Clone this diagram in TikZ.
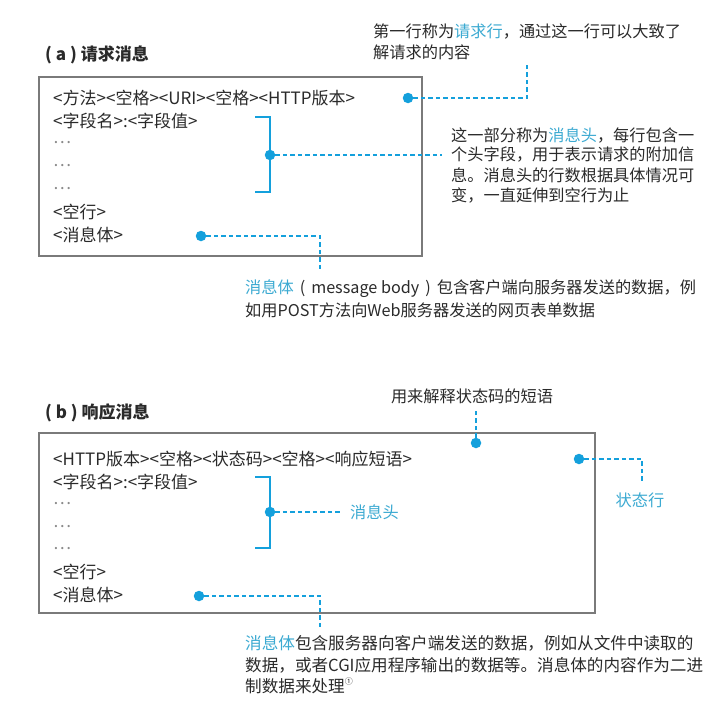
\documentclass[tikz,border=0pt]{standalone}
\usepackage{fontspec}
\setmainfont{Noto Sans CJK SC}
\definecolor{cy}{HTML}{14A0DC}
\definecolor{cyt}{HTML}{3CAAD2}
\definecolor{txt}{HTML}{2A2A2A}
\definecolor{bx}{HTML}{7A7A7A}
\definecolor{dots}{HTML}{8A8A8A}
\tikzset{
 boxln/.style={draw=bx, line width=2.5pt},
 ln/.style={anchor=west, inner sep=0pt, font=\fontsize{17}{20}\selectfont, text=txt},
 note/.style={anchor=west, inner sep=0pt, font=\fontsize{16.2}{19}\selectfont, text=txt},
 notebig/.style={anchor=west, inner sep=0pt, font=\fontsize{16.6}{19}\selectfont, text=txt},
 dotn/.style={circle, fill=cy, inner sep=0pt, minimum size=10.5pt},
 dl/.style={draw=cy, line width=2.2pt, dash pattern=on 4.5pt off 3pt},
 br/.style={draw=cy, line width=2.5pt},
 ttl/.style={anchor=west, inner sep=0pt, font=\fontsize{17}{19}\selectfont\bfseries, text=txt},
}
\begin{document}
\begin{tikzpicture}[x=1pt,y=-1pt]
\path[use as bounding box, fill=white] (0,0) rectangle (723,709);

% ---------- (a) ----------
\node[ttl] (ta) at (45,55) {( a ) 请求消息};
\draw[boxln] (39,77) rectangle (422,256);
\node[ln] (a1) at (53,98) {<方法><空格><URI><空格><HTTP版本>};
\node[ln] (a2) at (53,121) {<字段名>:<字段值>};
\node[ln,text=dots] (a3) at (53,143) {…};
\node[ln,text=dots] (a4) at (53,166) {…};
\node[ln,text=dots] (a5) at (53,189) {…};
\node[ln] (a6) at (53,212) {<空行>};
\node[ln] (a7) at (53,235) {<消息体>};

\node[note] (n1a) at (373,32) {第一行称为{\color{cyt}请求行}，通过这一行可以大致了};
\node[note] (n1b) at (373,52) {解请求的内容};
\node[dotn] (d1) at (408,98) {};
\coordinate (c1a) at (527,98);
\coordinate (c1b) at (527,65);
\draw[dl] (d1.east) -- (c1a) -- (c1b);

\coordinate (ba1) at (255,117);
\coordinate (ba2) at (270,117);
\coordinate (ba3) at (270,192);
\coordinate (ba4) at (255,192);
\draw[br] (ba1) -- (ba2) -- (ba3) -- (ba4);
\node[dotn] (d2) at (270,155) {};
\coordinate (c2) at (442,155);
\draw[dl] (d2.east) -- (c2);
\node[note] (n2a) at (451,135) {这一部分称为{\color{cyt}消息头}，每行包含一};
\node[note] (n2b) at (451,155) {个头字段，用于表示请求的附加信};
\node[note] (n2c) at (451,175) {息。消息头的行数根据具体情况可};
\node[note] (n2d) at (451,195) {变，一直延伸到空行为止};

\node[dotn] (d3) at (201,236) {};
\coordinate (c3a) at (320,236);
\coordinate (c3b) at (320,270);
\draw[dl] (d3.east) -- (c3a) -- (c3b);
\node[note] (n3a) at (245,289) {{\color{cyt}消息体}\hspace{6pt}(\hspace{6pt}message body\hspace{6pt})\hspace{6pt}包含客户端向服务器发送的数据，例};
\node[note] (n3b) at (245,310) {如用POST方法向Web服务器发送的网页表单数据};

% ---------- (b) ----------
\node[ttl] (tb) at (45,413) {( b ) 响应消息};
\draw[boxln] (39,433) rectangle (595,613);
\node[ln] (b1) at (53,459) {<HTTP版本><空格><状态码><空格><响应短语>};
\node[ln] (b2) at (53,482) {<字段名>:<字段值>};
\node[ln,text=dots] (b3) at (53,504) {…};
\node[ln,text=dots] (b4) at (53,527) {…};
\node[ln,text=dots] (b5) at (53,549) {…};
\node[ln] (b6) at (53,572) {<空行>};
\node[ln] (b7) at (53,595) {<消息体>};

\node[note,anchor=center] (n4) at (472,396) {用来解释状态码的短语};
\node[dotn] (d4) at (476,443) {};
\coordinate (c4) at (476,410);
\draw[dl] (d4.north) -- (c4);

\node[dotn] (d5) at (579,459) {};
\coordinate (c5a) at (642,459);
\coordinate (c5b) at (642,482);
\draw[dl] (d5.east) -- (c5a) -- (c5b);
\node[note,anchor=center,text=cyt] (n5) at (640,500) {状态行};

\coordinate (bb1) at (255,477);
\coordinate (bb2) at (270,477);
\coordinate (bb3) at (270,548);
\coordinate (bb4) at (255,548);
\draw[br] (bb1) -- (bb2) -- (bb3) -- (bb4);
\node[dotn] (d6) at (270,512) {};
\coordinate (c6) at (342,512);
\draw[dl] (d6.east) -- (c6);
\node[note,text=cyt] (n6) at (350,512) {消息头};

\node[dotn] (d7) at (199,596) {};
\coordinate (c7a) at (320,596);
\coordinate (c7b) at (320,630);
\draw[dl] (d7.east) -- (c7a) -- (c7b);
\node[notebig] (n7a) at (245,643) {{\color{cyt}消息体}包含服务器向客户端发送的数据，例如从文件中读取的};
\node[notebig] (n7b) at (245,665) {数据，或者CGI应用程序输出的数据等。消息体的内容作为二进};
\node[notebig] (n7c) at (245,686) {制数据来处理\raisebox{0.45em}{\fontsize{8}{9}\selectfont ①}};
\end{tikzpicture}
\end{document}
